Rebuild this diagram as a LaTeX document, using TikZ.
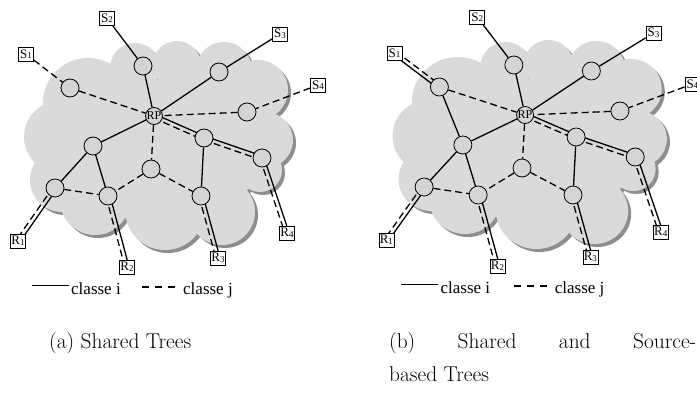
\documentclass[tikz,border=0pt]{standalone}
\usepackage{fontspec}
\newfontfamily\figfont{Liberation Serif}
\usetikzlibrary{calc}
\pgfdeclarelayer{canvas}
\pgfdeclarelayer{background}
\pgfsetlayers{canvas,background,main}

\definecolor{cloudgrey}{HTML}{DADADA}
\definecolor{shadowgrey}{HTML}{8E8E8E}
\definecolor{nodegrey}{HTML}{D4D4D4}

\tikzset{
  router/.style={circle, draw, line width=0.8pt, fill=nodegrey, minimum size=18pt, inner sep=0pt},
  rpnode/.style={router, minimum size=17pt, font=\figfont\fontsize{12}{12}\selectfont},
  hostbox/.style={draw, line width=0.7pt, fill=white, minimum width=15pt, minimum height=14pt,
                  inner sep=0.5pt, font=\figfont\fontsize{13}{13}\selectfont},
  clsi/.style={line width=1.3pt},
  clsj/.style={line width=1.3pt, dash pattern=on 7pt off 4pt},
  legendtext/.style={anchor=base west, inner sep=0pt, font=\figfont\fontsize{17}{17}\selectfont},
  captiontext/.style={anchor=base west, inner sep=0pt, font=\fontsize{21.4}{25}\selectfont},
}

% host label: letter with a small index
\newcommand\hostlabel[2]{#1{\fontsize{9}{9}\selectfont\raisebox{-0.6pt}{#2}}}

% cloud made of overlapping discs
\newcommand\cloudblob[1]{%
  \fill[#1] (60,137) circle (36pt) (62,180) circle (32pt) (95,200) circle (35pt)
    (165,210) circle (40pt) (222,212) circle (33pt) (260,170) circle (22pt)
    (265,140) circle (28pt) (258,90) circle (30pt) (224,70) circle (28pt)
    (177,65) circle (24pt) (135,68) circle (25pt) (88,103) circle (45pt)
    (200,95) circle (25pt) (165,150) ellipse (100pt and 70pt);}

% a solid and a dashed connector side by side
\newcommand\pairedge[4]{%
  \draw[clsi] ($(#1.center)!2pt!#3:(#2.center)$) -- ($(#2.center)!2pt!#4:(#1.center)$);
  \draw[clsj] ($(#1.center)!2pt!#4:(#2.center)$) -- ($(#2.center)!2pt!#3:(#1.center)$);}

% hosts, routers and the connectors common to both networks
\newcommand\network{%
  \node[hostbox] (S1) at (26,54) {\hostlabel{S}{1}};
  \node[hostbox] (S2) at (107,18) {\hostlabel{S}{2}};
  \node[hostbox] (S3) at (280,34) {\hostlabel{S}{3}};
  \node[hostbox] (S4) at (318,85) {\hostlabel{S}{4}};
  \node[hostbox] (R1) at (18,241) {\hostlabel{R}{1}};
  \node[hostbox] (R2) at (127,267) {\hostlabel{R}{2}};
  \node[hostbox] (R3) at (218,258) {\hostlabel{R}{3}};
  \node[hostbox] (R4) at (287,233) {\hostlabel{R}{4}};
  \node[router] (n1) at (70,88) {};
  \node[router] (n2) at (143,66) {};
  \node[router] (n3) at (219,72) {};
  \node[router] (n4) at (247,112) {};
  \node[rpnode] (RP) at (154,116) {RP};
  \node[router] (A) at (93,146) {};
  \node[router] (B) at (204,138) {};
  \node[router] (C) at (262,158) {};
  \node[router] (D) at (151,169) {};
  \node[router] (E) at (55,188) {};
  \node[router] (F) at (108,196) {};
  \node[router] (G) at (201,196) {};
  \node[legendtext] (li) at (71,294) {classe i};
  \node[legendtext] (lj) at (183,294) {classe j};
  \begin{pgfonlayer}{background}
    \cloudblob{shadowgrey, shift={(3,3)}}
    \cloudblob{cloudgrey}
    \draw[clsj] (n1) -- (RP);
    \draw[clsi] (S2) -- (n2) (n2) -- (RP);
    \draw[clsi] (S3) -- (n3) (n3) -- (RP);
    \draw[clsj] (S4) -- (n4) (n4) -- (RP);
    \draw[clsi] (RP) -- (A) (A) -- (E) (A) -- (F) (B) -- (G);
    \draw[clsj] (RP) -- (D) (D) -- (F) (D) -- (G) (E) -- (F);
    \pairedge{RP}{B}{90}{-90}
    \pairedge{B}{C}{90}{-90}
    \pairedge{C}{R4}{90}{-90}
    \pairedge{G}{R3}{90}{-90}
    \pairedge{F}{R2}{90}{-90}
    \pairedge{E}{R1}{90}{-90}
  \end{pgfonlayer}
  \draw[clsi] ($(li.west)+(-2,-3)$) -- ($(li.west)+(-39,-3)$);
  \draw[clsj, dash pattern=on 7pt off 6pt] ($(lj.west)+(-8,-3)$) -- ($(lj.west)+(-41,-3)$);
}

\begin{document}
\begin{tikzpicture}[x=1pt, y=-1pt]
  \useasboundingbox (0,0) rectangle (697,396);
  \begin{pgfonlayer}{canvas}
    \fill[white] (0,0) rectangle (697,396);
  \end{pgfonlayer}

  % shared trees
  \begin{scope}[name prefix=a-]
    \network
    \begin{pgfonlayer}{background}
      \draw[clsj] (S1) -- (n1);
    \end{pgfonlayer}
  \end{scope}

  % shared and source-based trees
  \begin{scope}[name prefix=b-, shift={(368,-1)}, xscale=1.02]
    \network
    \begin{pgfonlayer}{background}
      \pairedge{S1}{n1}{-90}{90}
      \draw[clsi] (n1) -- (A);
    \end{pgfonlayer}
  \end{scope}

  \node[captiontext] (capa) at (49,348) {(a) Shared Trees};
  \node[captiontext] (capb) at (389,348) {\makebox[307pt][s]{(b) Shared and Source-}};
  \node[captiontext] (capb2) at (389,381) {based Trees};
\end{tikzpicture}
\end{document}
